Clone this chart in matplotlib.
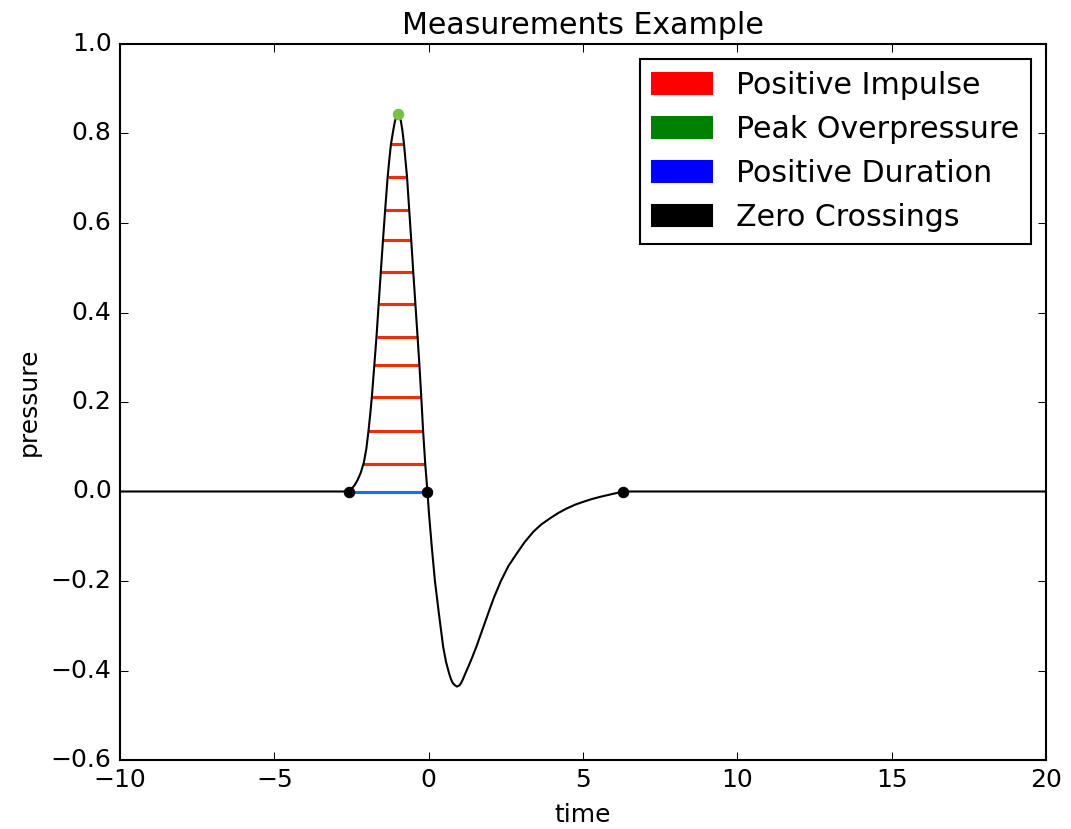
import numpy as np
import matplotlib
matplotlib.use("Agg")
import matplotlib.pyplot as plt
import matplotlib.patches as mpatches

# ---- data ----
time = [-10.0, -2.58, -2.50, -2.40, -2.30, -2.20, -2.10, -2.02, -1.95, -1.89,
        -1.84, -1.76, -1.69, -1.62, -1.55, -1.48, -1.41, -1.33, -1.27, -1.22,
        -1.15, -1.10, -1.05, -1.00, -0.95, -0.90, -0.85, -0.80, -0.70, -0.63,
        -0.565, -0.50, -0.43, -0.36, -0.30, -0.24, -0.18, -0.11, -0.04, 0.01,
        0.10, 0.20, 0.33, 0.47, 0.56, 0.66, 0.72, 0.78, 0.85, 0.92,
        1.00, 1.05, 1.10, 1.18, 1.30, 1.42, 1.55, 1.74, 1.93, 2.12,
        2.34, 2.58, 2.85, 3.10, 3.39, 3.65, 3.93, 4.20, 4.47, 4.75,
        5.01, 5.28, 5.55, 5.90, 6.30, 20.0]
pressure = [0, 0, 0.006, 0.014, 0.026, 0.042, 0.065, 0.095, 0.135, 0.175,
            0.212, 0.283, 0.346, 0.419, 0.491, 0.562, 0.629, 0.702, 0.745, 0.777,
            0.806, 0.825, 0.838, 0.844, 0.838, 0.828, 0.806, 0.777, 0.702, 0.629,
            0.562, 0.491, 0.419, 0.346, 0.283, 0.212, 0.135, 0.061, 0, -0.049,
            -0.123, -0.198, -0.272, -0.347, -0.380, -0.406, -0.419, -0.428, -0.433, -0.436,
            -0.433, -0.428, -0.421, -0.408, -0.389, -0.369, -0.346, -0.309, -0.272, -0.236,
            -0.200, -0.167, -0.139, -0.114, -0.090, -0.0735, -0.060, -0.048, -0.038, -0.0293,
            -0.023, -0.017, -0.012, -0.0064, 0, 0]

zero_crossings = [-2.58, -0.04, 6.30]
peak_time = -1.00
peak_pressure = 0.844
impulse_levels = [0.061, 0.135, 0.212, 0.283, 0.346, 0.419, 0.491,
                  0.562, 0.629, 0.702, 0.777]

legend_labels = ["Positive Impulse", "Peak Overpressure",
                 "Positive Duration", "Zero Crossings"]
legend_colors = ["red", "green", "blue", "black"]

# ---- figure ----
plt.style.use("classic")
W, H, DPI = 1071, 829, 150
fig = plt.figure(figsize=(W / DPI, H / DPI), dpi=DPI, facecolor="white")
ax = fig.add_axes([120 / W, (H - 760) / H, 926 / W, 716 / H])

t = np.array(time)
p = np.array(pressure)

ax.plot(t, p, color="black", lw=1.0, zorder=3)

# positive impulse lines between rising and falling edges of the pulse
i0 = time.index(zero_crossings[0])
ipk = time.index(peak_time)
i1 = time.index(zero_crossings[1])
rise_t, rise_p = t[i0:ipk + 1], p[i0:ipk + 1]
fall_t, fall_p = t[ipk:i1 + 1][::-1], p[ipk:i1 + 1][::-1]
lv = np.array(impulse_levels)
xl = np.interp(lv, rise_p, rise_t)
xr = np.interp(lv, fall_p, fall_t)
ax.hlines(lv, xl, xr, colors="#e8300c", lw=1.5, zorder=2)

# positive duration
ax.plot([zero_crossings[0], zero_crossings[1]], [0, 0], color="#1a6ef5", lw=1.5, zorder=4)

# peak and zero crossings
ax.plot([peak_time], [peak_pressure], "o", color="#78c044", mec="#78c044", ms=5, zorder=5)
ax.plot(zero_crossings, [0] * len(zero_crossings), "o", color="black", mec="black", ms=5, zorder=5)

ax.set_xlim(-10, 20)
ax.set_ylim(-0.6, 1.0)
ax.set_xticks([-10, -5, 0, 5, 10, 15, 20])
ax.set_yticks(np.arange(-0.6, 1.01, 0.2))
ax.set_title("Measurements Example", fontsize=14.4)
ax.set_xlabel("time", fontsize=12)
ax.set_ylabel("pressure", fontsize=12)
ax.tick_params(labelsize=12)

handles = [mpatches.Patch(color=c, label=l) for c, l in zip(legend_colors, legend_labels)]
ax.legend(handles=handles, loc="upper right", fontsize=14.4)

fig.savefig("out.png", dpi=DPI, facecolor="white")
